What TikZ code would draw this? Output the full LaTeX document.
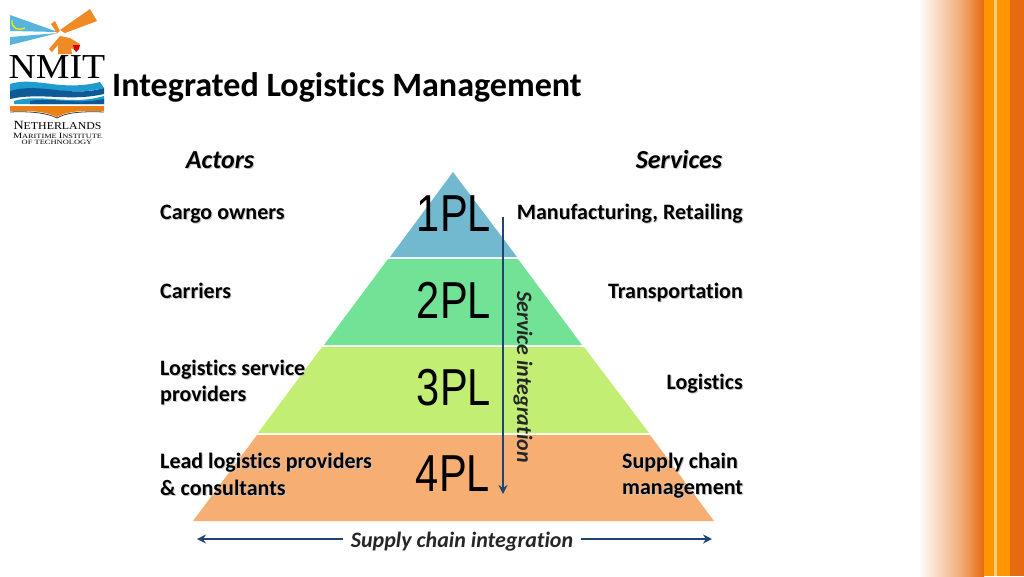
\documentclass[tikz,border=0pt]{standalone}
\usepackage{fontspec}
\setmainfont[Ligatures=NoCommon]{Carlito}
\newfontfamily\logofont{Liberation Serif}
\newfontfamily\plfont{Liberation Sans}
\usetikzlibrary{positioning, calc}
\usetikzlibrary{arrows.meta}
\definecolor{navyarrow}{HTML}{1F4570}
\definecolor{bandblue}{HTML}{72B8CF}
\definecolor{bandgreen}{HTML}{72E296}
\definecolor{bandlime}{HTML}{C3EE74}
\definecolor{bandorange}{HTML}{F7AE72}
\definecolor{logoorange}{HTML}{F08A24}
\definecolor{logoblue}{HTML}{1E9CD0}
\definecolor{logonavy}{HTML}{0D5A96}
\definecolor{stripedark}{HTML}{E66A10}
\definecolor{stripelight}{HTML}{FF9500}
\newcommand{\shad}[1]{\rlap{\kern1pt\raisebox{-1pt}{\color{black!22}#1}}#1}
\tikzset{
    headlabel/.style={font=\fontsize{26}{30}\selectfont\bfseries\itshape, inner sep=0pt},
    rowlabel/.style={font=\fontsize{22}{26.5}\selectfont\bfseries, inner sep=0pt},
    plabel/.style={font=\plfont\fontsize{52}{52}\selectfont, inner sep=0pt, xscale=0.8},
    axislabel/.style={font=\fontsize{22}{24}\selectfont\bfseries\itshape, inner sep=0pt, text=black!85},
    axisarrow/.style={draw=navyarrow, line width=2.5pt, -{Stealth[length=9pt,width=9pt]}}
}
\begin{document}
\begin{tikzpicture}[x=1pt,y=-1pt]
    \useasboundingbox (0,0) rectangle (1024,576);
    % stripes on the right
    \fill[left color=white, right color=stripedark!55!white] (918,0) rectangle (960,576);
    \fill[left color=stripedark!55!white, right color=stripedark] (960,0) rectangle (984,576);
    \fill[stripelight] (984,0) rectangle (1010,576);
    \fill[stripelight!50!white] (994,0) rectangle (997,576);
    \fill[stripedark] (1010,0) rectangle (1024,576);
    % logo
    \fill[logoblue!75!white] (10,15) -- (58,32) -- (10,31) -- cycle;
    \fill[logoblue!75!white] (10,37) -- (58,33) -- (10,45) -- cycle;
    \draw[yellow!85!orange, line width=1.4pt] (12,20) .. controls (11,29) and (19,31) .. (25,28);
    \fill[logoorange] (90,9) -- (97,21) -- (65,33) -- (60,30) -- cycle;
    \fill[logoorange] (51,24) -- (55,21) -- (60,31) -- (57,33) -- cycle;
    \fill[logoorange] (60,36) -- (70,38) -- (80,44) -- (75,50) -- (71,48) -- (72,54) -- (58,54) -- (58,45) -- (52,52) -- (49,49) -- cycle;
    \fill[red!85!black] (73,45) -- (80,45) -- (79,49) -- (76,52) -- (74,49) -- cycle;
    \node[font=\logofont\fontsize{35}{35}\selectfont, inner sep=0pt, xscale=1.08] (logoname) at (57,67) {NMIT};
    \fill[logoblue] (10,84) .. controls (35,76) and (60,92) .. (100,82) -- (104,88) .. controls (70,97) and (40,84) .. (10,92) -- cycle;
    \fill[logonavy] (10,91) .. controls (40,82) and (70,98) .. (104,88) -- (104,94) .. controls (70,102) and (40,92) .. (10,99) -- cycle;
    \fill[logoblue] (14,101) .. controls (40,93) and (70,106) .. (104,96) -- (104,104) -- (14,104) -- cycle;
    \fill[logonavy] (30,101) .. controls (50,97) and (75,105) .. (104,99) -- (104,104) -- (30,104) -- cycle;
    \fill[orange!70!brown] (10,106) -- (104,106) -- (104,111) .. controls (80,110) and (65,112) .. (57,117) .. controls (48,112) and (30,110) .. (10,111) -- cycle;
    \draw[black!75, line width=0.8pt] (10,112) .. controls (30,111) and (48,113) .. (57,118) .. controls (65,113) and (80,111) .. (104,112);
    \node[font=\logofont\fontsize{12.5}{12.5}\selectfont, inner sep=0pt, xscale=1.13] (logonl) at (57.5,125) {N\fontsize{10.5}{10.5}\selectfont ETHERLANDS};
    \node[font=\logofont\fontsize{8}{8}\selectfont, inner sep=0pt, xscale=1.28] (logomi) at (57.5,135.5) {M\fontsize{6.5}{6.5}\selectfont ARITIME \fontsize{8}{8}\selectfont I\fontsize{6.5}{6.5}\selectfont NSTITUTE};
    \node[font=\logofont\fontsize{6.5}{6.5}\selectfont, inner sep=0pt, xscale=1.3] (logoot) at (57,142) {OF TECHNOLOGY};
    % title
    \node[anchor=west, inner sep=0pt, font=\fontsize{34.1}{38}\selectfont\bfseries] (title) at (112,87) {Integrated Logistics Management};
    % pyramid
    \fill[bandblue] (453,172) -- (517,257) -- (390,257) -- cycle;
    \fill[bandgreen] (388,259) -- (518,259) -- (582,345) -- (324,345) -- cycle;
    \fill[bandlime] (322,347) -- (584,347) -- (649,433) -- (258,433) -- cycle;
    \fill[bandorange] (257,435) -- (650,435) -- (714,521) -- (193,521) -- cycle;
    \node[plabel] (onepl) at (454,214) {1PL};
    \node[plabel] (twopl) at (454,300) {2PL};
    \node[plabel] (threepl) at (454,388) {3PL};
    \node[plabel] (fourpl) at (453,474) {4PL};
    % headings
    \node[headlabel] (actors) at (220,161) {\shad{Actors}};
    \node[headlabel] (services) at (679,160) {\shad{Services}};
    % left column
    \node[rowlabel, anchor=west] (cargo) at (160,215) {\shad{Cargo owners}};
    \node[rowlabel, anchor=west] (carriers) at (160,291) {\shad{Carriers}};
    \node[rowlabel, anchor=west, align=left] (lsp) at (160,383) {\shad{Logistics service}\\\shad{providers}};
    \node[rowlabel, anchor=west, align=left] (lead) at (160,475) {\shad{Lead logistics providers}\\\shad{\& consultants}};
    % right column
    \node[rowlabel, anchor=east] (manuf) at (743,214) {\shad{Manufacturing, Retailing}};
    \node[rowlabel, anchor=east] (transport) at (743,293) {\shad{Transportation}};
    \node[rowlabel, anchor=east] (logistics) at (743,384) {\shad{Logistics}};
    \node[rowlabel, anchor=west, align=left] (scm) at (622,476) {\shad{Supply chain}\\\shad{management}};
    % axes
    \node[axislabel, rotate=-90] (service) at (523,377) {Service integration};
    \node[axislabel] (supply) at (462,542) {Supply chain integration};
    \coordinate (servicetop) at (503,217);
    \coordinate (servicebot) at (503,494);
    \coordinate (supplyleft) at (197,539);
    \coordinate (supplyright) at (712,539);
    \draw[axisarrow] (servicetop) -- (servicebot);
    \draw[axisarrow] (supply.west |- supplyleft) ++(-8,0) -- (supplyleft);
    \draw[axisarrow] (supply.east |- supplyright) ++(8,0) -- (supplyright);
\end{tikzpicture}
\end{document}
